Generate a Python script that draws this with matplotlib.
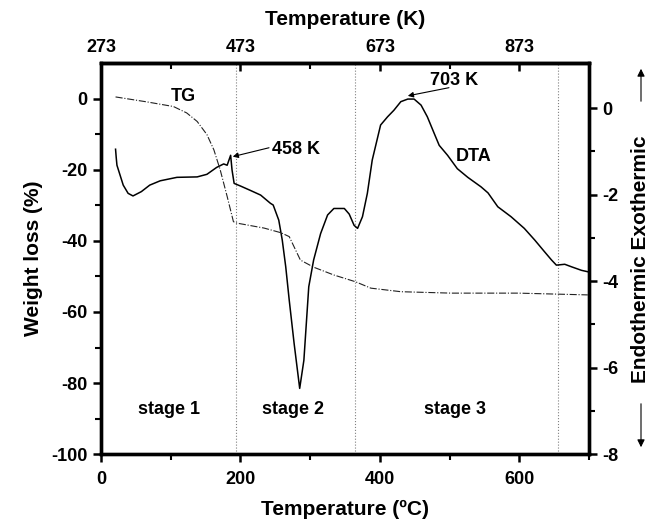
#/usr/bin/env python
'''
TG / DTA curves with Kelvin scale on top
'''
import numpy as np
import matplotlib
matplotlib.use('Agg')
import matplotlib.pyplot as plt
from matplotlib.ticker import MultipleLocator, FixedLocator
from matplotlib.patches import FancyArrowPatch

# Constants
BIGFONT=15
MIDFONT=13
FONTNAME='Liberation Sans'

plt.rcParams['font.family'] = [FONTNAME, 'DejaVu Sans']
plt.rcParams['font.weight'] = 'bold'
plt.rcParams['axes.unicode_minus'] = False

#--------------Data-----------------------------------
# TG curve, weight loss (%) vs temperature (C)
tg_t = [21, 66, 104, 123, 138, 152, 162, 171, 181, 190, 195, 234, 258, 270, 286,
        305, 334, 365, 387, 430, 502, 598, 698]
tg_w = [0.5, -0.9, -2.2, -4.0, -6.4, -10.1, -14.4, -20.0, -27.5, -34.6, -35.0, -36.4,
        -37.7, -38.8, -45.4, -47.4, -49.6, -51.5, -53.3, -54.3, -54.7, -54.7, -55.2]

# DTA curve (right axis) vs temperature (C)
dta_t = [21, 22, 23, 32, 39, 46, 58, 70, 85, 109, 138, 152, 166, 176, 181, 186, 188,
         191, 200, 214, 229, 243, 247, 255, 260, 265, 270, 277, 285, 291, 298, 305,
         315, 325, 334, 349, 356, 363, 368, 375, 382, 389, 397, 401, 411, 420, 430,
         440, 449, 459, 468, 478, 485, 497, 511, 526, 545, 555, 569, 588, 607, 622,
         636, 646, 653, 665, 675, 689, 700]
dta_v = [-0.95, -1.15, -1.32, -1.78, -1.97, -2.03, -1.93, -1.78, -1.68, -1.60, -1.59,
         -1.53, -1.37, -1.29, -1.32, -1.09, -1.43, -1.74, -1.80, -1.90, -2.01, -2.20,
         -2.24, -2.59, -3.05, -3.67, -4.44, -5.44, -6.48, -5.83, -4.13, -3.51, -2.90,
         -2.47, -2.32, -2.32, -2.45, -2.71, -2.78, -2.51, -1.97, -1.20, -0.66, -0.39,
         -0.20, -0.05, 0.15, 0.21, 0.21, 0.07, -0.20, -0.59, -0.86, -1.09, -1.40,
         -1.60, -1.82, -1.96, -2.28, -2.51, -2.78, -3.05, -3.32, -3.51, -3.63, -3.61,
         -3.67, -3.75, -3.79]

stage_bounds = [193, 365, 655]
stage_names = ['stage 1', 'stage 2', 'stage 3']
stage_pos = [98, 275, 508]

k_ticks = [273, 473, 673, 873]


#--------------Plot----------------
fig = plt.figure(figsize=(6.51, 5.22), dpi=100)
ax = fig.add_axes([0.155, 0.130, 0.750, 0.749])
ax2 = ax.twinx()

# stage separators
for xb in stage_bounds:
    ax.axvline(xb, color='gray', linestyle=':', linewidth=0.8, zorder=1)

ax.plot(tg_t, tg_w, color='#222222', linestyle='-.', linewidth=0.8, zorder=2)
ax2.plot(dta_t, dta_v, color='black', linewidth=1.1, zorder=3)

ax.set_xlim(0, 700)
ax.set_ylim(-100, 10)
ax2.set_ylim(-8, 1.04)

ax.xaxis.set_major_locator(MultipleLocator(200))
ax.xaxis.set_minor_locator(MultipleLocator(100))
ax.yaxis.set_major_locator(FixedLocator(np.arange(-100, 1, 20)))
ax.yaxis.set_minor_locator(FixedLocator(np.arange(-90, 1, 10)))
ax2.yaxis.set_major_locator(FixedLocator(np.arange(-8, 1, 2)))
ax2.yaxis.set_minor_locator(FixedLocator(np.arange(-7, 1, 2)))

for a in (ax, ax2):
    for sp in a.spines.values():
        sp.set_linewidth(2.4)
    a.tick_params(which='major', direction='out', length=6, width=1.8, labelsize=MIDFONT)
    a.tick_params(which='minor', direction='out', length=4, width=1.5)
ax.tick_params(axis='x', which='both', top=False)
ax.tick_params(axis='x', which='major', pad=6)

# top Kelvin axis
axt = ax.secondary_xaxis('top', functions=(lambda c: c + 273, lambda k: k - 273))
axt.xaxis.set_major_locator(FixedLocator(k_ticks))
axt.xaxis.set_minor_locator(FixedLocator([373, 573, 773]))
axt.tick_params(which='major', direction='in', length=6, width=1.8, labelsize=MIDFONT, pad=5)
axt.tick_params(which='minor', direction='in', length=4, width=1.5)
axt.spines['top'].set_linewidth(2.4)
axt.set_xlabel('Temperature (K)', fontsize=BIGFONT, fontweight='bold', labelpad=10)

ax.set_xlabel('Temperature (ºC)', fontsize=BIGFONT, fontweight='bold', labelpad=9)
ax.set_ylabel('Weight loss (%)', fontsize=BIGFONT, fontweight='bold', labelpad=6)

# labels on curves
ax.text(118, 0.5, 'TG', fontsize=MIDFONT, fontweight='bold', ha='center', va='center')
ax.text(535, -16.2, 'DTA', fontsize=MIDFONT, fontweight='bold', ha='center', va='center')
ax.text(280, -14.3, '458 K', fontsize=MIDFONT, fontweight='bold', ha='center', va='center')
ax.annotate('', xy=(189, -16.3), xytext=(241, -13.8),
            arrowprops=dict(arrowstyle='-|>', color='black', lw=0.8,
                            mutation_scale=8, shrinkA=0, shrinkB=0))
ax.text(507, 5.2, '703 K', fontsize=MIDFONT, fontweight='bold', ha='center', va='center')
ax.annotate('', xy=(440, 0.8), xytext=(499, 3.1),
            arrowprops=dict(arrowstyle='-|>', color='black', lw=0.8,
                            mutation_scale=8, shrinkA=0, shrinkB=0))

for xs, nm in zip(stage_pos, stage_names):
    ax.text(xs, -87.5, nm, fontsize=MIDFONT, fontweight='bold', ha='center', va='center')

# right side label with arrows
fig.text(641/651., 1-259/522., 'Endothermic Exothermic', rotation=90, fontsize=BIGFONT,
         fontweight='bold', ha='center', va='center')
fig.patches.append(FancyArrowPatch(
    (641/651., 1-104/522.), (641/651., 1-66/522.), transform=fig.transFigure,
    arrowstyle='-|>', mutation_scale=11, color='black', lw=0.8))
fig.patches.append(FancyArrowPatch(
    (641/651., 1-401/522.), (641/651., 1-450/522.), transform=fig.transFigure,
    arrowstyle='-|>', mutation_scale=11, color='black', lw=0.8))

plt.savefig('out.png', dpi=100)
plt.close('all')
